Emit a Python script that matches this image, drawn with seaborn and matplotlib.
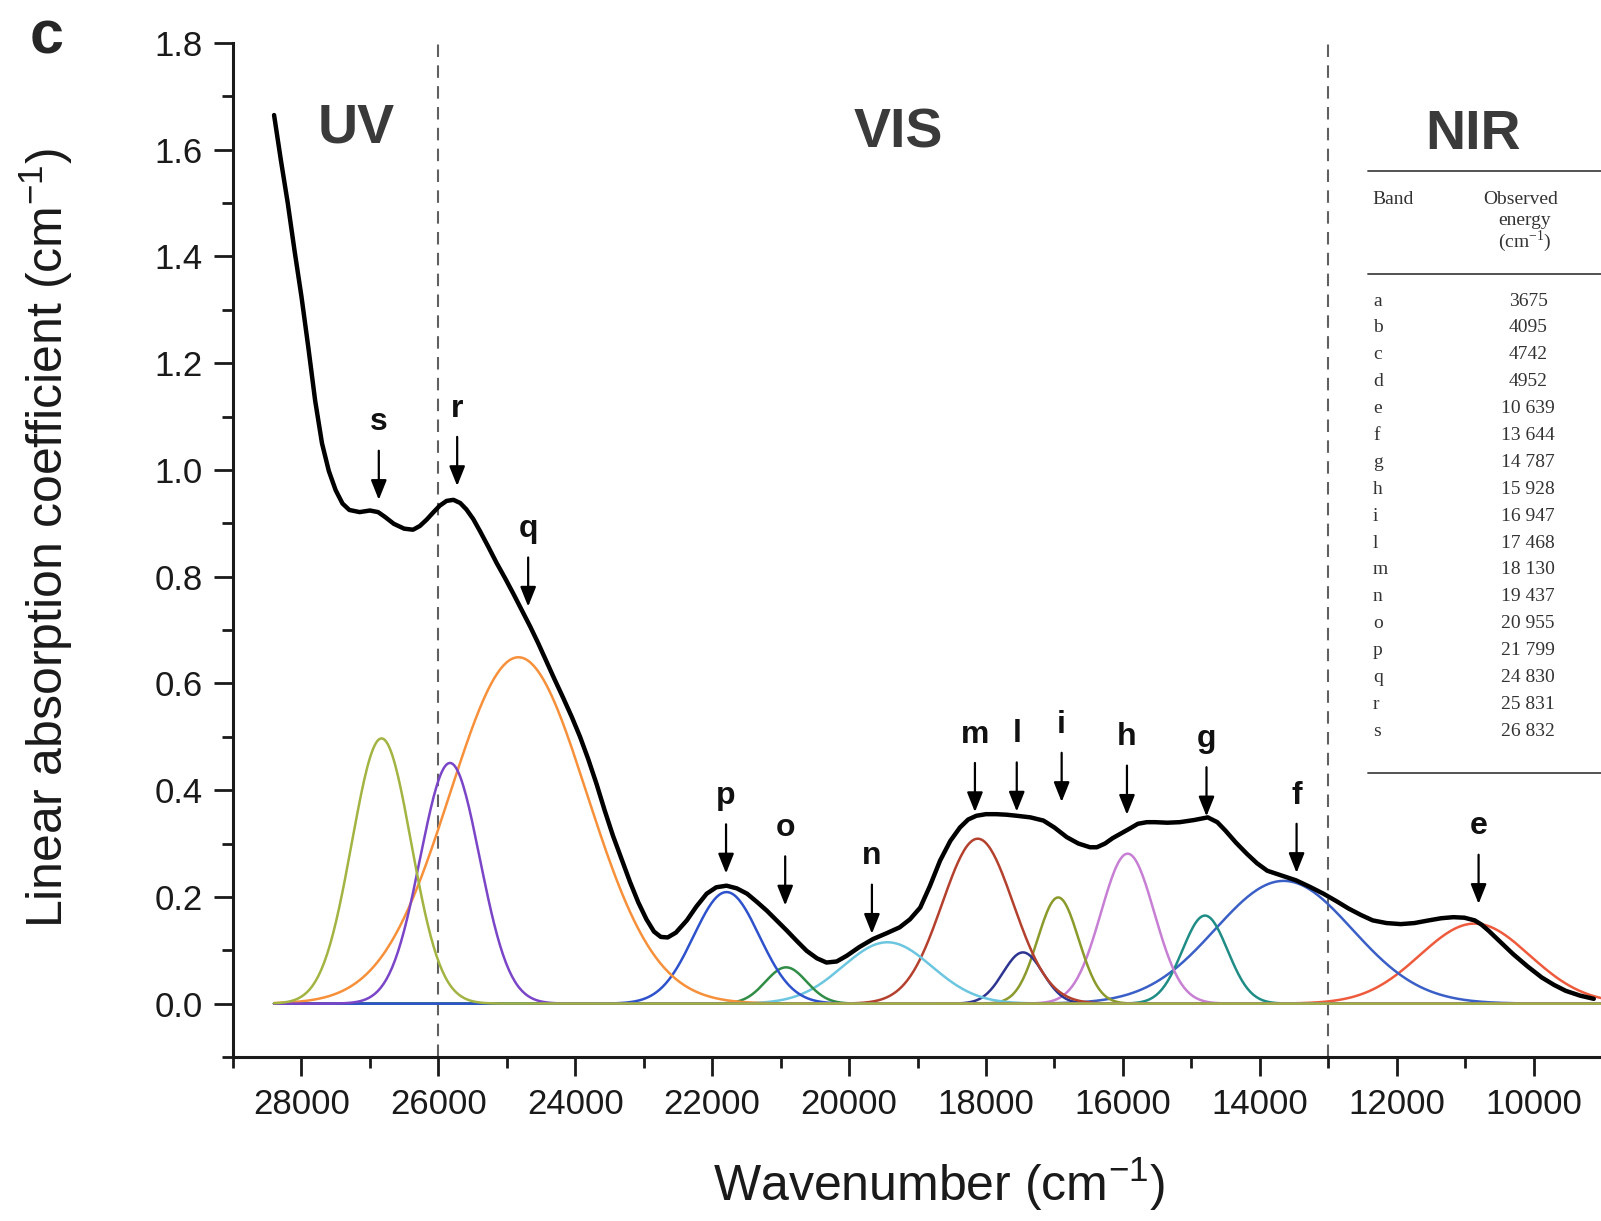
import numpy as np
import pandas as pd
import matplotlib
matplotlib.use("Agg")
import matplotlib.pyplot as plt
import seaborn as sns
from matplotlib.lines import Line2D
from matplotlib.ticker import MultipleLocator, FormatStrFormatter

# ---------------- data ----------------
# measured envelope (black curve)
env_wavenumber = [28400, 28300, 28200, 28100, 28000, 27900, 27800, 27700, 27600, 27500,
                  27400, 27300, 27150, 27000, 26880, 26780, 26650, 26500, 26370, 26270,
                  26170, 26070, 25980, 25880, 25780, 25680, 25590, 25490, 25390, 25270,
                  25150, 25020, 24900, 24780, 24660, 24540, 24420, 24300, 24180, 24050,
                  23930, 23810, 23690, 23570, 23450, 23320, 23200, 23080, 22960, 22850,
                  22750, 22650, 22530, 22370, 22230, 22080, 21940, 21790, 21640, 21490,
                  21350, 21200, 21050, 20910, 20760, 20620, 20470, 20330, 20180, 20030,
                  19850, 19650, 19450, 19260, 19110, 18960, 18820, 18670, 18520, 18380,
                  18260, 18140, 18000, 17850, 17700, 17550, 17350, 17160, 17000, 16820,
                  16650, 16480, 16380, 16260, 16150, 16040, 15900, 15780, 15650, 15530,
                  15350, 15170, 14960, 14760, 14620, 14500, 14350, 14190, 14040, 13890,
                  13680, 13470, 13270, 13070, 12880, 12700, 12520, 12350, 12150, 11940,
                  11740, 11530, 11350, 11170, 11010, 10860, 10760, 10660, 10480, 10300,
                  10090, 9880, 9700, 9530, 9320, 9120]
env_absorption = [1.665, 1.580, 1.500, 1.410, 1.325, 1.230, 1.130, 1.050, 0.998, 0.962,
                  0.937, 0.925, 0.921, 0.924, 0.921, 0.912, 0.899, 0.890, 0.888, 0.895,
                  0.907, 0.921, 0.933, 0.942, 0.944, 0.938, 0.926, 0.908, 0.885, 0.856,
                  0.826, 0.796, 0.767, 0.737, 0.707, 0.675, 0.641, 0.607, 0.574, 0.537,
                  0.500, 0.458, 0.412, 0.362, 0.315, 0.270, 0.228, 0.190, 0.158, 0.135,
                  0.125, 0.124, 0.133, 0.156, 0.182, 0.206, 0.218, 0.221, 0.216, 0.206,
                  0.191, 0.174, 0.155, 0.137, 0.117, 0.099, 0.085, 0.077, 0.079, 0.090,
                  0.106, 0.121, 0.132, 0.143, 0.158, 0.180, 0.220, 0.268, 0.305, 0.330,
                  0.345, 0.352, 0.355, 0.355, 0.354, 0.352, 0.349, 0.343, 0.330, 0.312,
                  0.300, 0.293, 0.293, 0.300, 0.310, 0.318, 0.328, 0.337, 0.340, 0.340,
                  0.339, 0.340, 0.344, 0.349, 0.340, 0.324, 0.302, 0.281, 0.263, 0.249,
                  0.240, 0.231, 0.219, 0.206, 0.192, 0.178, 0.166, 0.156, 0.151, 0.149,
                  0.151, 0.156, 0.160, 0.162, 0.161, 0.156, 0.148, 0.137, 0.115, 0.093,
                  0.070, 0.049, 0.035, 0.024, 0.015, 0.009]

# fitted Gaussian bands: centre (cm-1), height (cm-1), sigma (cm-1)
band_names   = ["e", "f", "g", "h", "i", "l", "m", "n", "o", "p", "q", "r", "s"]
band_centers = [10860, 13650, 14800, 15930, 16945, 17460, 18120, 19440, 20920, 21790, 24830, 25830, 26830]
band_heights = [0.150, 0.230, 0.165, 0.281, 0.199, 0.096, 0.309, 0.115, 0.068, 0.209, 0.649, 0.451, 0.497]
band_sigmas  = [800, 1000, 330, 390, 300, 290, 520, 650, 300, 480, 1000, 434, 434]
band_colors  = ["#ee5a3c", "#3a5fc6", "#1f8c86", "#c77fd4", "#8c9a2c", "#2d3590", "#b4402e",
                "#6cc6e0", "#2f8d46", "#2e52cc", "#f7903a", "#7b45c8", "#a3b443"]

# arrows marking the bands
arrow_labels    = ["s", "r", "q", "p", "o", "n", "m", "l", "i", "h", "g", "f", "e"]
arrow_positions = [26870, 25725, 24688, 21797, 20933, 19666, 18161, 17550, 16894, 15940, 14778, 13462, 10803]
arrow_tips      = [0.944, 0.970, 0.744, 0.244, 0.184, 0.131, 0.359, 0.360, 0.378, 0.354, 0.351, 0.245, 0.187]

# region labels
region_labels = ["UV", "VIS", "NIR"]
region_x = [27207, 19279, 10888]
region_y = [1.64, 1.63, 1.627]
region_bounds = [26000, 13000]

# table of band energies
table_bands = ["a", "b", "c", "d", "e", "f", "g", "h", "i", "l", "m", "n", "o", "p", "q", "r", "s"]
table_energies = ["3675", "4095", "4742", "4952", "10 639", "13 644", "14 787", "15 928", "16 947",
                  "17 468", "18 130", "19 437", "20 955", "21 799", "24 830", "25 831", "26 832"]

# ---------------- build band profiles ----------------
grid = np.linspace(28400, 9000, 900)
rows = []
for name, c, h, s in zip(band_names, band_centers, band_heights, band_sigmas):
    yv = h * np.exp(-0.5 * ((grid - c) / s) ** 2)
    rows.append(pd.DataFrame({"wavenumber": grid, "absorption": yv, "band": name}))
bands_df = pd.concat(rows, ignore_index=True)
env_df = pd.DataFrame({"wavenumber": env_wavenumber, "absorption": env_absorption})

# ---------------- style ----------------
sns.set_style("ticks")
plt.rcParams["font.family"] = ["Liberation Sans", "DejaVu Sans"]
plt.rcParams["mathtext.fontset"] = "custom"
plt.rcParams["mathtext.rm"] = "Liberation Sans"
plt.rcParams["mathtext.it"] = "Liberation Sans:italic"
plt.rcParams["mathtext.bf"] = "Liberation Sans:bold"

W, H = 1601, 1221
fig = plt.figure(figsize=(W / 100, H / 100), dpi=100)
fig.patch.set_facecolor("white")
ax = fig.add_axes([233 / W, 1 - 1057 / H, (1602 - 233) / W, (1057 - 43) / H])

for xb in region_bounds:
    ax.axvline(xb, color="#606060", lw=1.5, ls=(0, (6, 4)), zorder=0)

sns.lineplot(data=bands_df, x="wavenumber", y="absorption", hue="band",
             palette=dict(zip(band_names, band_colors)), hue_order=band_names,
             legend=False, lw=1.8, ax=ax, zorder=2)
sns.lineplot(data=env_df, x="wavenumber", y="absorption", color="black",
             lw=3.2, ax=ax, zorder=3)

ax.set_xlim(29000, 9000)
ax.set_ylim(-0.1, 1.8)
ax.xaxis.set_major_locator(MultipleLocator(2000))
ax.xaxis.set_minor_locator(MultipleLocator(1000))
ax.yaxis.set_major_locator(MultipleLocator(0.2))
ax.yaxis.set_minor_locator(MultipleLocator(0.1))
ax.yaxis.set_major_formatter(FormatStrFormatter("%.1f"))
ax.xaxis.set_major_formatter(FormatStrFormatter("%d"))

for side in ["top", "right"]:
    ax.spines[side].set_visible(False)
for side in ["left", "bottom"]:
    ax.spines[side].set_linewidth(2.2)
    ax.spines[side].set_color("#1a1a1a")
ax.tick_params(which="major", length=14, width=2.0, direction="out", labelsize=25,
               pad=8, color="#1a1a1a", labelcolor="#1a1a1a")
ax.tick_params(which="minor", length=8, width=2.0, direction="out", color="#1a1a1a")

ax.set_xlabel("Wavenumber (cm$^{-1}$)", fontsize=36, color="#1a1a1a")
ax.set_ylabel("Linear absorption coefficient (cm$^{-1}$)", fontsize=36, color="#1a1a1a")
ax.xaxis.set_label_coords((939 - 233) / 1369, -(1184 - 1057) / 1014)
ax.yaxis.set_label_coords((46 - 233) / 1369, (1057 - 538) / 1014)
ax.xaxis.label.set_va("center")
ax.yaxis.label.set_va("center")

# arrows + letters
for lab, xv, tip in zip(arrow_labels, arrow_positions, arrow_tips):
    ax.annotate("", xy=(xv, tip), xytext=(xv, tip + 0.092),
                arrowprops=dict(arrowstyle="-|>,head_length=0.6,head_width=0.24",
                                mutation_scale=20, color="black", lw=1.6,
                                shrinkA=0, shrinkB=0), zorder=5)
    ax.text(xv, tip + 0.13, lab, fontsize=23, fontweight="bold", color="#111111",
            ha="center", va="baseline", zorder=5)

for lab, xv, yv in zip(region_labels, region_x, region_y):
    ax.text(xv, yv, lab, fontsize=40, fontweight="bold", color="#3a3a3a",
            ha="center", va="center")

# panel letter
fig.text(47 / W, 1 - 38 / H, "c", fontsize=44, fontweight="bold", ha="center", va="center")

# table
serif = ["Liberation Serif", "DejaVu Serif"]
tcol = "#333333"
def fx(px):
    return px / W
def fy(py):
    return 1 - py / H
for yline in [170.5, 273.6, 773]:
    fig.add_artist(Line2D([fx(1368), fx(1601)], [fy(yline), fy(yline)], color="#444444", lw=1.3))
fig.text(fx(1372), fy(199), "Band", family=serif, fontsize=14, color=tcol, ha="left", va="center")
fig.text(fx(1521), fy(199), "Observed", family=serif, fontsize=14, color=tcol, ha="center", va="center")
fig.text(fx(1525), fy(220.5), "energy", family=serif, fontsize=14, color=tcol, ha="center", va="center")
fig.text(fx(1525), fy(241), r"(cm$^{\mathregular{-1}}$)", family=serif, fontsize=14, color=tcol,
         ha="center", va="center")
for i, (b, e) in enumerate(zip(table_bands, table_energies)):
    yy = 301 + i * 26.9
    fig.text(fx(1373), fy(yy), b, family=serif, fontsize=14, color=tcol, ha="left", va="center")
    fig.text(fx(1528), fy(yy), e, family=serif, fontsize=14, color=tcol, ha="center", va="center")

fig.savefig("out.png", dpi=100, facecolor="white")
